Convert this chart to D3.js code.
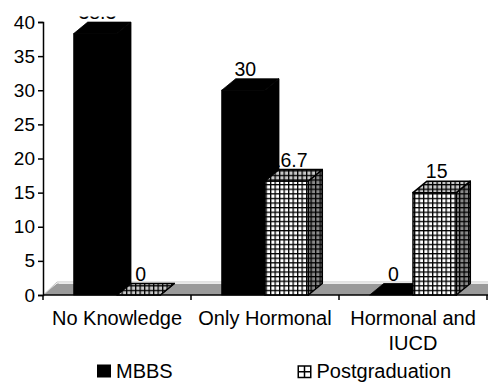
<!DOCTYPE html>
<html>
<head>
<meta charset="utf-8">
<script src="https://cdn.jsdelivr.net/npm/d3@7"></script>
<style>
  html, body { margin: 0; padding: 0; background: #fff; }
  svg { display: block; font-family: "Liberation Sans", Arial, sans-serif; }
</style>
</head>
<body>
<svg id="chart" width="488" height="383"></svg>
<script>
// Knowledge of emergency contraception by qualification (%)
const categories = ["No Knowledge", "Only Hormonal", "Hormonal and IUCD"];
const seriesNames = ["MBBS", "Postgraduation"];
const mbbsValues = [38.3, 30, 0];
const postgradValues = [0, 16.7, 15];
const yTickValues = [0, 5, 10, 15, 20, 25, 30, 35, 40];

const W = 488, H = 383;
const plot = { left: 43, right: 487, top: 22, bottom: 295 };
const depth = { dx: 14, dy: 11.5 };

const svg = d3.select("#chart");

// grid fill used for the Postgraduation columns
const defs = svg.append("defs");
function gridPattern(id, bg) {
  const p = defs.append("pattern")
    .attr("id", id)
    .attr("patternUnits", "userSpaceOnUse")
    .attr("width", 4.5).attr("height", 4.6);
  p.append("rect").attr("width", 4.5).attr("height", 4.6).attr("fill", bg);
  p.append("rect").attr("x", 0).attr("y", 0).attr("width", 1.3).attr("height", 4.6).attr("fill", "#000");
  p.append("rect").attr("x", 0).attr("y", 0).attr("width", 4.5).attr("height", 1.3).attr("fill", "#000");
}
gridPattern("gridFront", "#ffffff");
gridPattern("gridTop", "#c8c8c8");
gridPattern("gridSide", "#8a8a8a");

defs.append("clipPath").attr("id", "labelClip")
  .append("rect").attr("x", 0).attr("y", 16.5).attr("width", W).attr("height", H);

const x0 = d3.scaleBand()
  .domain(categories)
  .range([plot.left, plot.right])
  .paddingInner(0.415)
  .paddingOuter(0.2075);

const x1 = d3.scaleBand()
  .domain(seriesNames)
  .range([0, x0.bandwidth()])
  .padding(0);

const y = d3.scaleLinear().domain([0, 40]).range([plot.bottom, plot.top]);

// floor
const floorBack = y(0) - depth.dy;
svg.append("polygon")
  .attr("points", [
    [plot.left, y(0)], [W + 20, y(0)], [W + 20, floorBack], [plot.left + depth.dx, floorBack]
  ].map(p => p.join(",")).join(" "))
  .attr("fill", "#9a9a9a");
svg.append("polyline")
  .attr("points", [
    [plot.left + 1, y(0) - 0.5], [plot.left + depth.dx, floorBack - 1.5], [W + 20, floorBack - 1.5]
  ].map(p => p.join(",")).join(" "))
  .attr("fill", "none").attr("stroke", "#c4c4c4").attr("stroke-width", 1);
svg.append("line")
  .attr("x1", plot.left + depth.dx + 2).attr("x2", W + 20)
  .attr("y1", floorBack - 0.2).attr("y2", floorBack - 0.2)
  .attr("stroke", "#f2f2f2").attr("stroke-width", 1);

// axes
const yAxis = d3.axisLeft(y).tickValues(yTickValues).tickSize(5).tickPadding(3);
const gy = svg.append("g").attr("transform", `translate(${plot.left},0)`).call(yAxis);
gy.select(".domain").attr("stroke", "#000").attr("stroke-width", 1.5);
gy.selectAll(".tick line").attr("stroke", "#000").attr("stroke-width", 1.5);
gy.selectAll(".tick text")
  .attr("fill", "#000").attr("font-size", "19px")
  .attr("font-family", "Liberation Sans, Arial, sans-serif");

// x axis baseline with ticks on the category boundaries
const step = x0.step();
const boundaries = d3.range(categories.length + 1).map(i => plot.left + i * step);
svg.append("line")
  .attr("x1", plot.left).attr("x2", W)
  .attr("y1", y(0)).attr("y2", y(0))
  .attr("stroke", "#000").attr("stroke-width", 1.5);
svg.selectAll(".xtick").data(boundaries).join("line")
  .attr("class", "xtick")
  .attr("x1", d => d).attr("x2", d => d)
  .attr("y1", y(0)).attr("y2", y(0) + 5)
  .attr("stroke", "#000").attr("stroke-width", 1.5);

// columns
const rows = [];
categories.forEach((c, i) => {
  rows.push({ cat: c, series: "MBBS", value: mbbsValues[i] });
  rows.push({ cat: c, series: "Postgraduation", value: postgradValues[i] });
});

const pts = a => a.map(p => p.join(",")).join(" ");
const bars = svg.append("g");
rows.forEach(d => {
  const xl = x0(d.cat) + x1(d.series);
  const w = x1.bandwidth();
  const yt = y(d.value), yb = y(0);
  const g = bars.append("g");
  const isM = d.series === "MBBS";
  const stroke = "#000";
  const sw = isM ? 0.8 : 1.5;
  // side face
  g.append("polygon")
    .attr("points", pts([[xl + w, yt], [xl + w + depth.dx, yt - depth.dy], [xl + w + depth.dx, yb - depth.dy], [xl + w, yb]]))
    .attr("fill", isM ? "#000" : "url(#gridSide)")
    .attr("stroke", stroke).attr("stroke-width", sw).attr("stroke-linejoin", "round");
  // front face
  if (yb - yt > 0) {
    g.append("rect")
      .attr("x", xl).attr("y", yt).attr("width", w).attr("height", yb - yt)
      .attr("fill", isM ? "#000" : "url(#gridFront)")
      .attr("stroke", stroke).attr("stroke-width", sw);
  }
  // top face
  g.append("polygon")
    .attr("points", pts([[xl, yt], [xl + depth.dx, yt - depth.dy], [xl + w + depth.dx, yt - depth.dy], [xl + w, yt]]))
    .attr("fill", isM ? "#000" : "url(#gridTop)")
    .attr("stroke", stroke).attr("stroke-width", sw).attr("stroke-linejoin", "round");
});

// value labels, drawn beneath the columns so a neighbouring column can hide part of one
const labels = svg.insert("g", () => bars.node()).attr("clip-path", "url(#labelClip)");
labels.selectAll("text").data(rows).join("text")
  .attr("x", d => x0(d.cat) + x1(d.series) + x1.bandwidth() / 2 + depth.dx / 2 - 5)
  .attr("y", d => y(d.value) - depth.dy - 3)
  .attr("text-anchor", "middle")
  .attr("font-size", "19.5px")
  .attr("fill", "#000")
  .text(d => d.value);

// category labels
function wrap(sel, width) {
  sel.each(function () {
    const t = d3.select(this);
    const words = t.text().split(/\s+/);
    const xx = t.attr("x"), yy = t.attr("y");
    t.text(null);
    let line = [];
    let ts = t.append("tspan").attr("x", xx).attr("y", yy);
    let n = 0;
    words.forEach(wd => {
      line.push(wd);
      ts.text(line.join(" "));
      if (ts.node().getComputedTextLength() > width && line.length > 1) {
        line.pop();
        ts.text(line.join(" "));
        line = [wd];
        n++;
        ts = t.append("tspan").attr("x", xx).attr("y", +yy + n * 25).text(wd);
      }
    });
  });
}
svg.append("g").selectAll("text").data(categories).join("text")
  .attr("x", d => x0(d) + x0.bandwidth() / 2)
  .attr("y", 325)
  .attr("text-anchor", "middle")
  .attr("font-size", "20px")
  .attr("fill", "#000")
  .text(d => d)
  .call(wrap, step - 6);

// legend
const legend = svg.append("g");
const legendX = [97, 297.5];
seriesNames.forEach((s, i) => {
  const g = legend.append("g").attr("transform", `translate(${legendX[i]},364.5)`);
  if (i === 0) {
    g.append("rect").attr("width", 14).attr("height", 13).attr("fill", "#000");
  } else {
    g.append("rect").attr("x", 0.75).attr("y", 1.5).attr("width", 12.5).attr("height", 11.5)
      .attr("fill", "#fff").attr("stroke", "#000").attr("stroke-width", 1.5);
    g.append("line").attr("x1", 7).attr("x2", 7).attr("y1", 1.5).attr("y2", 13).attr("stroke", "#000").attr("stroke-width", 1.5);
    g.append("line").attr("x1", 0.75).attr("x2", 13.25).attr("y1", 7.25).attr("y2", 7.25).attr("stroke", "#000").attr("stroke-width", 1.5);
  }
  g.append("text").attr("x", 19).attr("y", 13.5)
    .attr("font-size", "20px").attr("fill", "#000").text(s);
});
</script>
</body>
</html>
